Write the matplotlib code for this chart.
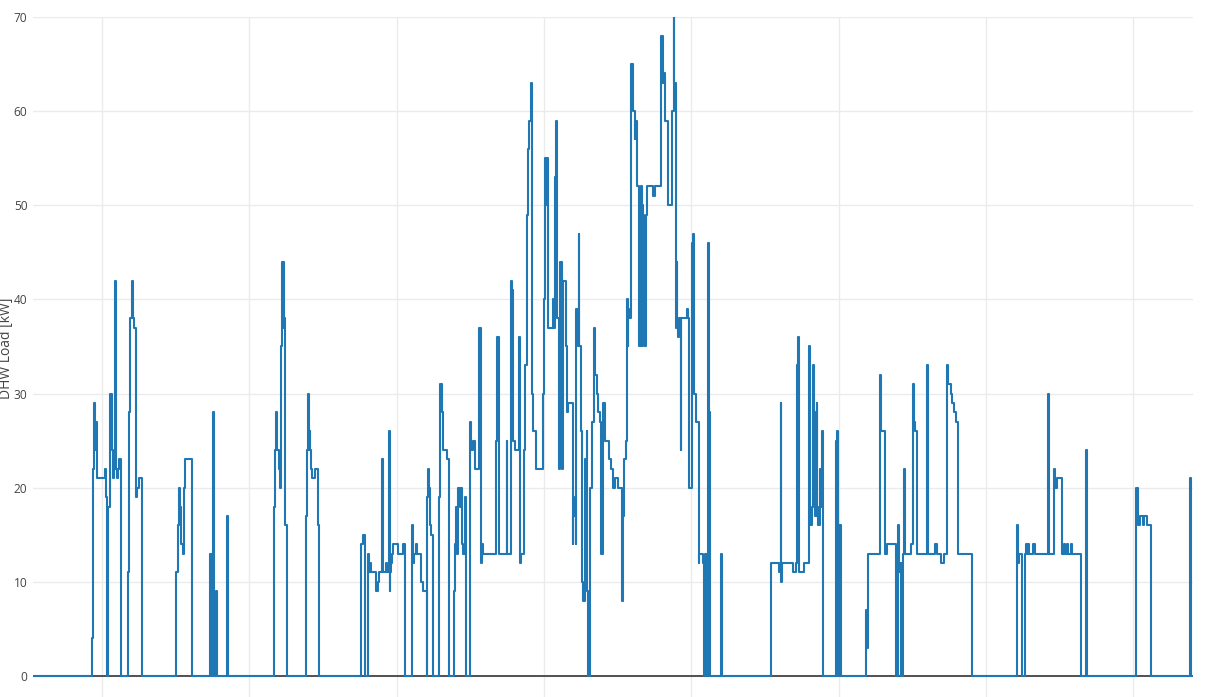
import numpy as np
import matplotlib
matplotlib.use("Agg")
import matplotlib.pyplot as plt

# DHW load profile, step data (time index, load in kW)
t = [33, 91.7, 92.7, 94.3, 95.3, 96, 96.7, 97.3, 105.3, 106.3, 107, 108.3, 109.7, 110.3, 111.7, 112.3, 113, 114,
     115, 116.3, 117, 117.7, 119.3, 121, 128, 128.7, 130, 132, 132.7, 133.3, 134, 136, 137, 139.3, 142.3,
     176.3, 177.7, 179, 180, 181, 183, 184, 185, 191.7, 209.7, 210.7, 211.3, 212, 212.7, 213.7, 215.7, 216.7,
     226.7, 227.7,
     274, 275, 276.3, 277, 278.7, 279.7, 280.7, 281.7, 282.3, 283.7, 284.3, 285, 287.3,
     306, 306.7, 308, 309, 309.7, 310.3, 311, 312.3, 315, 318.3, 319.3,
     361, 363.3, 364.7, 367.7, 369.3, 370.3, 371.3, 375.7, 377.7, 379, 381.7, 382.7, 383.3, 386, 387, 388.7,
     389.7, 390.3, 391, 392, 393.3, 397.7, 403.3, 404.7,
     412, 413, 414.3, 415.7, 417.3, 420.7, 423.3, 426.7, 427.3, 428, 428.7, 430, 431, 432.7, 438.7, 440,
     441.7, 442.7, 443.3, 446.7, 448.7,
     454.3, 455.3, 456.3, 457, 458.3, 460, 461, 462, 463.3, 464.7, 466, 470, 471.3, 472.7, 475, 479.3, 480.7,
     481.7, 482.7, 495.7, 496.7, 497.3, 499.3, 506.7, 507.3, 510.7, 511.7, 513, 515, 518.7, 520, 520.7,
     524.3, 525.3,
     526.7, 528, 529.3, 531, 532.3, 532.7, 535.7, 543.3, 544, 545, 546.3, 547, 548.3, 552.7, 554, 555, 556.3,
     557, 559, 559.7, 561.7, 562.3, 563.3, 565.7, 566.7, 568.3, 572.7, 573.3, 575, 575.7, 576, 577.7, 578.7,
     579.3, 580.7, 582, 583.3, 585.3, 586.7, 587.3, 588.3, 590, 591.7, 594, 595, 596.7, 598.3, 600, 601,
     603.3, 605,
     609, 610.7, 612.7, 614.7, 618.3, 622.3, 623, 623.7, 626, 626.7, 627.7, 628.3, 629.3, 630.7, 632.7, 633.3,
     634.7, 635, 636.7, 637.3, 638.7, 640.7, 641.7, 642, 643.3, 644.3, 645.7, 646.7, 647.3, 653.3, 655, 660.7,
     662.7, 663.3, 665.3, 668.3, 671.7, 672.3, 673.7, 674.3, 675.7, 676.7, 677.3, 678.3, 679, 680.7, 681.3,
     687.3, 688.3, 689.3, 692.3, 693.3, 694, 696, 698.7, 699.3, 703.3, 704, 705.3, 706.7, 708.3, 709.3, 710,
     721, 722,
     770.7, 779.3, 780.7, 781.3, 782, 792.7, 796, 797.3, 797.7, 799, 804.3, 809.3, 810.3, 811.7, 813, 814,
     815, 816.7, 817.3, 818.3, 820, 821, 822, 823, 835.7, 837, 837.7, 839, 841,
     866, 867.3, 868, 879.7, 881, 885, 886.7, 895.7, 897.7, 899.3, 900.7, 901.3, 902.7, 904, 904.7, 910.7,
     912.7, 914, 914.7, 917.3, 926.7, 928.3, 935, 936.7, 941, 944, 946.7, 948.3, 950.7, 951.7, 954, 956,
     958.3, 971.7,
     1016.7, 1018.3, 1019, 1022, 1025, 1025.7, 1027, 1028, 1029.3, 1033.3, 1035, 1048.3, 1049.3, 1054, 1055,
     1056.7, 1061.7, 1064, 1065.3, 1066.7, 1068.3, 1071, 1072.3, 1080.7, 1086, 1087.3, 1136, 1137.7, 1140,
     1142.7, 1144, 1146.7, 1150.7, 1190, 1191, 1193]

load = [0, 4, 22, 29, 24, 27, 22, 21, 22, 19, 0, 18, 24, 30, 28, 24, 21, 22,
        42, 22, 21, 22, 23, 0, 11, 28, 38, 42, 40, 38, 37, 19, 20, 21, 0,
        11, 16, 20, 18, 14, 13, 20, 23, 0, 13, 0, 13, 0, 28, 0, 9, 0,
        17, 0,
        18, 24, 28, 24, 22, 20, 35, 39, 44, 37, 38, 16, 0,
        17, 24, 30, 24, 26, 24, 22, 21, 22, 16, 0,
        14, 15, 0, 13, 11, 12, 11, 9, 10, 11, 23, 12, 11, 12, 11, 26,
        9, 11, 12, 13, 14, 13, 14, 0,
        16, 12, 13, 14, 13, 10, 9, 0, 19, 22, 20, 16, 15, 0, 19, 31,
        28, 26, 24, 23, 0,
        9, 14, 18, 13, 20, 18, 20, 14, 13, 19, 0, 27, 24, 25, 22, 37, 12,
        14, 13, 25, 31, 36, 13, 25, 13, 42, 41, 25, 24, 36, 12, 13,
        24, 33,
        49, 56, 59, 63, 30, 26, 22, 30, 40, 55, 50, 55, 37, 40, 37, 53, 59,
        38, 22, 44, 42, 22, 42, 35, 28, 29, 14, 17, 19, 14, 39, 35, 47,
        35, 26, 10, 8, 23, 26, 9, 0, 20, 27, 37, 32, 30, 28, 27, 13,
        29, 25,
        23, 22, 20, 21, 20, 8, 17, 23, 25, 40, 35, 39, 38, 65, 61, 60,
        57, 59, 57, 52, 35, 52, 35, 50, 49, 35, 49, 50, 52, 51, 52, 68,
        63, 64, 59, 50, 52, 60, 70, 63, 37, 44, 37, 36, 38, 24, 38,
        39, 38, 20, 46, 47, 30, 27, 12, 13, 12, 0, 13, 0, 46, 28, 0,
        13, 0,
        12, 11, 29, 10, 12, 11, 12, 33, 36, 11, 12, 35, 16, 18, 33, 28,
        17, 29, 18, 16, 22, 18, 26, 0, 25, 26, 0, 16, 0,
        7, 3, 13, 32, 26, 13, 14, 0, 16, 11, 12, 0, 13, 22, 13, 14,
        31, 27, 26, 13, 33, 13, 14, 13, 12, 13, 33, 31, 30, 29, 28, 27,
        13, 0,
        16, 12, 13, 0, 13, 14, 13, 14, 13, 14, 13, 30, 13, 22, 20,
        21, 13, 14, 13, 14, 13, 14, 13, 0, 24, 0, 20, 16, 17,
        16, 17, 16, 0, 21, 0, 0]

fig = plt.figure(figsize=(12.09, 6.97), dpi=100)
ax = fig.add_axes([33 / 1209, 0, 1160 / 1209, 1 - 17 / 697])

ax.step(t, load, where='post', color='#1f77b4', lw=1.5, zorder=3)

ax.set_xlim(t[0], t[-1])
ax.set_ylim(-21 / 9.414, 70)
ax.set_xticks(np.arange(102, 1190, 147.3))
ax.set_yticks(np.arange(0, 71, 10))
ax.tick_params(axis='x', length=0, labelbottom=False)
ax.tick_params(axis='y', length=0, pad=4, labelsize=8.6, labelcolor='#444444')
for lbl in ax.get_yticklabels():
    lbl.set_family('Open Sans')

ax.grid(True, color='#ebebeb', lw=1, zorder=0)
ax.axhline(0, color='#444444', lw=1.3, zorder=2)
for s in ax.spines.values():
    s.set_visible(False)

ax.set_ylabel('DHW Load [kW]', fontsize=10, color='#444444', family='Open Sans')
ax.yaxis.set_label_coords(-0.0165, 0.513)

fig.savefig('out.png', dpi=100)
